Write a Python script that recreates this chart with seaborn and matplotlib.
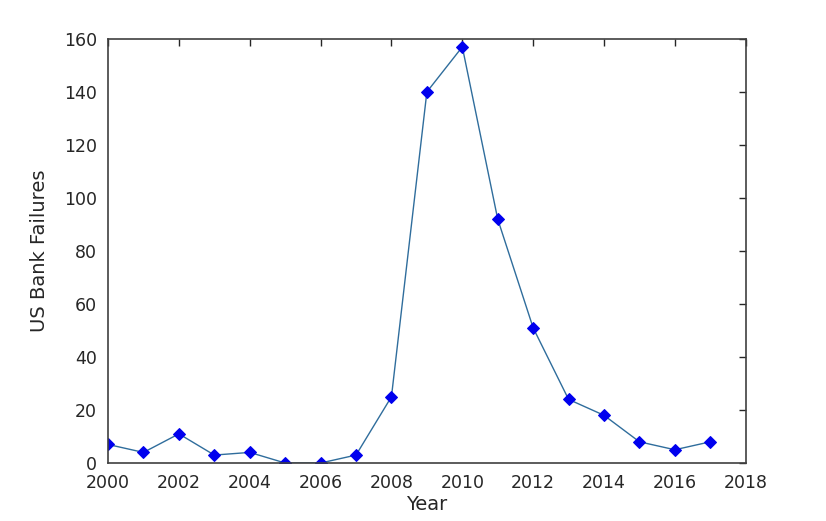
import numpy as np
import matplotlib
matplotlib.use("Agg")
import matplotlib.pyplot as plt
import pandas as pd
import seaborn as sns

years = [2000, 2001, 2002, 2003, 2004, 2005, 2006, 2007, 2008,
         2009, 2010, 2011, 2012, 2013, 2014, 2015, 2016, 2017]
failures = [7, 4, 11, 3, 4, 0, 0, 3, 25, 140, 157, 92, 51, 24, 18, 8, 5, 8]

df = pd.DataFrame({"Year": years, "Failures": failures})

sns.set_style("white")
plt.rcParams["font.family"] = ["DejaVu Sans"]

fig = plt.figure(figsize=(8.26, 5.21), dpi=100)
ax = fig.add_axes([0.1308, 0.1113, 0.772, 0.814])

sns.lineplot(data=df, x="Year", y="Failures", ax=ax, color="#2f6d9c", linewidth=1.0,
             marker="D", markersize=6, markerfacecolor="#0000ee",
             markeredgecolor="#0000ee")

ax.set_xlim(2000, 2018)
ax.set_ylim(0, 160)
ax.set_xticks(range(2000, 2019, 2))
ax.set_yticks(range(0, 161, 20))
ax.tick_params(direction="in", top=True, right=True, length=5, width=1,
               labelsize=12.5, colors="#262626")
ax.tick_params(axis="x", pad=8)
ax.tick_params(axis="y", pad=8)
for s in ax.spines.values():
    s.set_color("#404040")
    s.set_linewidth(1.2)
ax.set_xlabel("Year", fontsize=14, color="#262626", labelpad=2)
ax.set_ylabel("US Bank Failures", fontsize=14, color="#262626", labelpad=11)

fig.savefig("out.png", dpi=100)
